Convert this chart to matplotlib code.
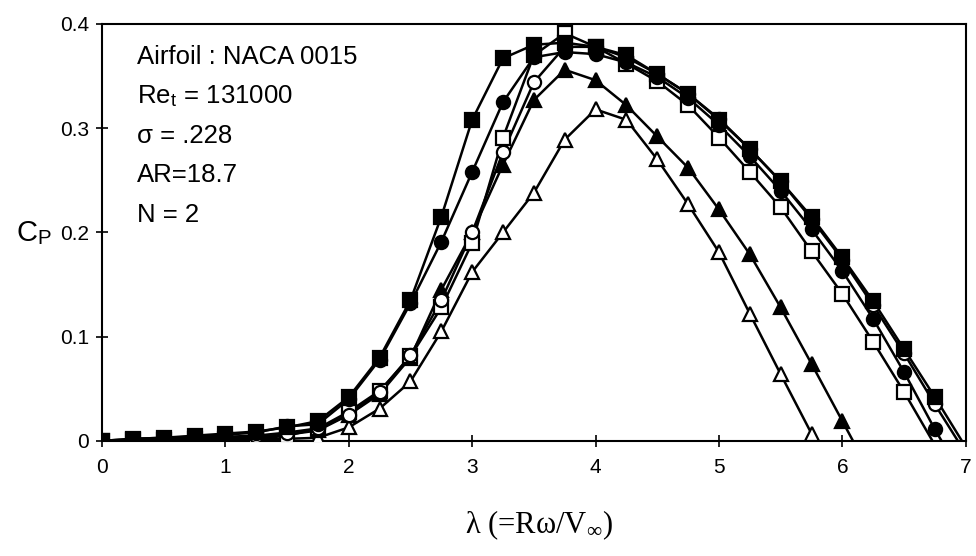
import numpy as np
import matplotlib
matplotlib.use("Agg")
import matplotlib.pyplot as plt

plt.rcParams['font.family'] = ['Liberation Sans', 'DejaVu Sans']
plt.rcParams['mathtext.fontset'] = 'stix'

# tip speed ratio, 0..7 in steps of 0.25
tsr = np.arange(29) * 0.25

# power coefficient per series (last value below zero -> line runs to the axis)
cp_filled_square = [0, 0.002, 0.003, 0.005, 0.007, 0.009, 0.013, 0.019, 0.042, 0.080,
                    0.135, 0.215, 0.308, 0.367, 0.380, 0.382, 0.378, 0.370, 0.352, 0.333,
                    0.308, 0.280, 0.249, 0.215, 0.176, 0.134, 0.088, 0.042, -0.006]
cp_filled_circle = [0, 0.002, 0.003, 0.004, 0.006, 0.008, 0.014, 0.016, 0.040, 0.078,
                    0.132, 0.191, 0.258, 0.325, 0.368, 0.373, 0.371, 0.363, 0.349, 0.329,
                    0.303, 0.273, 0.240, 0.203, 0.163, 0.117, 0.066, 0.011, -0.040]
cp_open_circle = [0, 0.001, 0.002, 0.003, 0.004, 0.005, 0.008, 0.012, 0.025, 0.047,
                  0.082, 0.135, 0.200, 0.277, 0.344, 0.378, 0.378, 0.368, 0.352, 0.333,
                  0.309, 0.280, 0.249, 0.213, 0.174, 0.130, 0.084, 0.035, -0.012]
cp_open_square = [0, 0.001, 0.001, 0.002, 0.002, 0.002, 0.005, 0.012, 0.028, 0.048,
                  0.081, 0.128, 0.190, 0.291, 0.370, 0.391, 0.378, 0.362, 0.345, 0.322,
                  0.291, 0.258, 0.224, 0.182, 0.141, 0.095, 0.047, -0.004]
cp_filled_tri = [0, 0.001, 0.001, 0.002, 0.003, 0.004, 0.006, 0.010, 0.025, 0.045,
                 0.080, 0.145, 0.200, 0.265, 0.327, 0.356, 0.346, 0.322, 0.292, 0.262,
                 0.222, 0.179, 0.128, 0.074, 0.019, -0.036]
cp_open_tri = [0, 0.000, 0.001, 0.001, 0.001, 0.002, 0.002, 0.003, 0.013, 0.031,
               0.057, 0.105, 0.162, 0.200, 0.238, 0.289, 0.318, 0.308, 0.270, 0.227,
               0.181, 0.122, 0.064, 0.007, -0.050]

# drawn in this order, last on top
series = [
    (cp_open_tri, '^', 'white'),
    (cp_filled_tri, '^', 'black'),
    (cp_open_square, 's', 'white'),
    (cp_open_circle, 'o', 'white'),
    (cp_filled_circle, 'o', 'black'),
    (cp_filled_square, 's', 'black'),
]

fig = plt.figure(figsize=(9.76, 5.56), dpi=100)
ax = fig.add_axes([0.1045, 0.207, 0.885, 0.75])

for cp, marker, face in series:
    cp = np.array(cp)
    x = tsr[:len(cp)]
    ax.plot(x, cp, color='black', lw=1.8, zorder=2)
    keep = cp >= 0
    ax.plot(x[keep], cp[keep], ls='none', marker=marker, ms=9.5,
            mfc=face, mec='black', mew=1.6, zorder=3)

ax.set_xlim(0, 7)
ax.set_ylim(0, 0.4)
ax.set_xticks(range(8))
ax.set_yticks([0, 0.1, 0.2, 0.3, 0.4])
ax.set_yticklabels(['0', '0.1', '0.2', '0.3', '0.4'])
ax.tick_params(direction='inout', length=9, width=1.2, labelsize=15)
ax.tick_params(axis='x', pad=8)
ax.tick_params(axis='y', pad=5)
for s in ax.spines.values():
    s.set_linewidth(1.5)

fig.text(0.016, 0.580, r'C$_\mathregular{P}$', fontsize=21, va='center', ha='left')
fig.text(0.553, 0.055, r'λ (=Rω/V$_\mathregular{∞}$)', fontsize=22,
         family=['Liberation Serif', 'DejaVu Serif'], ha='center', va='center')

notes = ['Airfoil : NACA 0015', r'Re$_\mathregular{t}$ = 131000', 'σ = .228',
         'AR=18.7', 'N = 2']
for i, t in enumerate(notes):
    fig.text(0.140, 1 - (57 + 39.5 * i) / 556, t, fontsize=18.5, va='center', ha='left')

fig.savefig('out.png', dpi=100)
